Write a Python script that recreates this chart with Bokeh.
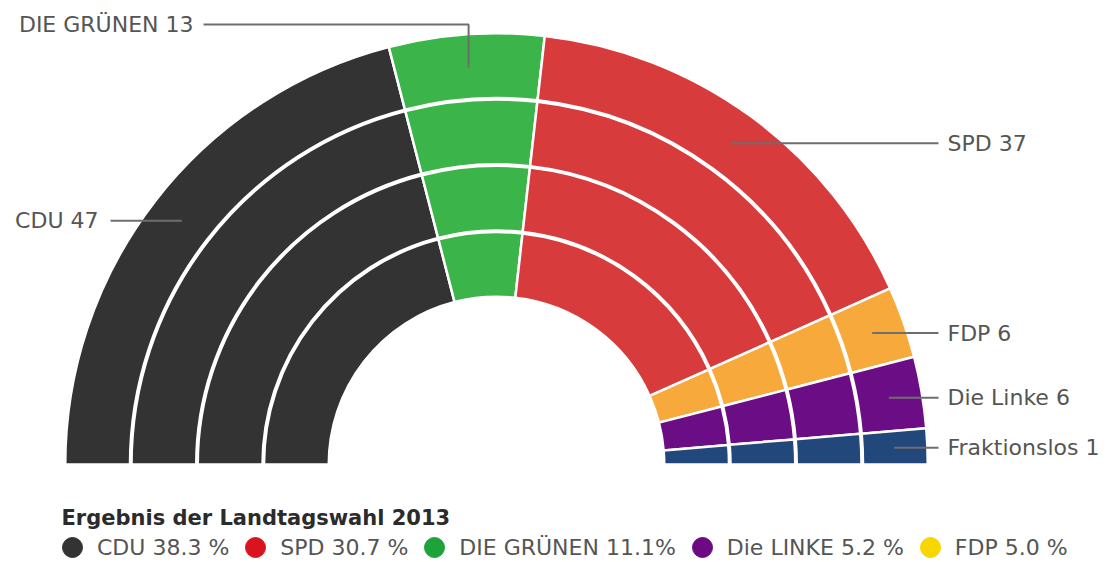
import math
from bokeh.plotting import figure
from bokeh.models import Range1d, Legend, LegendItem, Label, ColumnDataSource
from bokeh.core.properties import value
from bokeh.embed import file_html
from bokeh.resources import INLINE

# ---------------- data ----------------
parties = ["CDU", "DIE GRÜNEN", "SPD", "FDP", "Die Linke", "Fraktionslos"]
seats = [47, 13, 37, 6, 6, 1]
label_side = ["left", "top", "right", "right", "right", "right"]

legend_labels = ["CDU 38.3 %", "SPD 30.7 %", "DIE GRÜNEN 11.1%", "Die LINKE 5.2 %", "FDP 5.0 %"]
legend_title = "Ergebnis der Landtagswahl 2013"

# ---------------- style ----------------
seat_colors = ["#333333", "#3bb54a", "#d83b3c", "#f7aa3b", "#6b0e86", "#22477b"]
legend_colors = ["#333333", "#d8151c", "#1ea339", "#6b0a82", "#f8d600"]
FONT = "DejaVu Sans"
TEXT_COLOR = "#555555"
LINE_COLOR = "#6e6e6e"

W, H = 1105, 560
TOP = 562  # data y = TOP - screen y
CX, CY = 496, TOP - 464
R_OUT, R_IN = 431.25, 167.75
N_RINGS = 4
RING_GAP = 1.5
MIN_WEIGHT = 3  # smallest visual weight of a party slice

p = figure(width=W, height=H, output_backend="svg", toolbar_location=None,
           x_range=Range1d(0, W), y_range=Range1d(TOP - H, TOP),
           x_axis_type=None, y_axis_type=None, min_border=0)
p.grid.visible = False
p.outline_line_color = None
p.background_fill_color = "white"

# angles
weights = [max(s, MIN_WEIGHT) for s in seats]
tot = sum(weights)
hi_angles, lo_angles = [], []
a = math.pi
for w in weights:
    span = w / tot * math.pi
    hi_angles.append(a)
    lo_angles.append(a - span)
    a -= span

ring_w = (R_OUT - R_IN - (N_RINGS - 1) * RING_GAP) / N_RINGS
xs, ys, ir, orr, sa, ea, cols = [], [], [], [], [], [], []
for i in range(len(parties)):
    for k in range(N_RINGS):
        outer = R_OUT - k * (ring_w + RING_GAP)
        inner = outer - ring_w
        xs.append(CX); ys.append(CY)
        ir.append(inner); orr.append(outer)
        sa.append(lo_angles[i]); ea.append(hi_angles[i])
        cols.append(seat_colors[i])
src = ColumnDataSource(dict(x=xs, y=ys, ir=ir, orr=orr, sa=sa, ea=ea, c=cols))
p.annular_wedge(x="x", y="y", inner_radius="ir", outer_radius="orr",
                start_angle="sa", end_angle="ea", fill_color="c",
                line_color="white", line_width=2.5, source=src)

# labels and leader lines
LEADER_R = 398
RIGHT_LINE_END = 938
RIGHT_TEXT_X = 947
LEFT_LINE_END = 110
LEFT_TEXT_X = 98
TOP_Y = TOP - 24
TOP_LINE_END = 203
TOP_TEXT_X = 193

lx, ly = [], []
tx, ty, tt, ta = [], [], [], []
for i, name in enumerate(parties):
    mid = (lo_angles[i] + hi_angles[i]) / 2
    sx = CX + LEADER_R * math.cos(mid)
    sy = CY + LEADER_R * math.sin(mid)
    txt = f"{name} {seats[i]}"
    if label_side[i] == "right":
        lx.append([sx, RIGHT_LINE_END]); ly.append([sy, sy])
        tx.append(RIGHT_TEXT_X); ty.append(sy); tt.append(txt); ta.append("left")
    elif label_side[i] == "left":
        lx.append([sx, LEFT_LINE_END]); ly.append([sy, sy])
        tx.append(LEFT_TEXT_X); ty.append(sy); tt.append(txt); ta.append("right")
    else:
        lx.append([sx, sx, TOP_LINE_END]); ly.append([sy, TOP_Y, TOP_Y])
        tx.append(TOP_TEXT_X); ty.append(TOP_Y); tt.append(txt); ta.append("right")

p.multi_line(xs=lx, ys=ly, line_color=LINE_COLOR, line_width=2)
p.text(x=tx, y=ty, text=tt, text_align=ta, text_baseline="middle",
       text_font=value(FONT), text_font_size="22px", text_color=TEXT_COLOR)

# legend title
p.add_layout(Label(x=61, y=TOP - 517, text=legend_title, text_font=FONT,
                   text_font_size="21px", text_font_style="bold",
                   text_color="#2b2b2b", text_baseline="alphabetic"))

# legend
items = []
for lab, col in zip(legend_labels, legend_colors):
    r = p.scatter(x=[-1000], y=[-1000], marker="circle", fill_color=col, line_color=col)
    items.append(LegendItem(label=lab, renderers=[r]))
legend = Legend(items=items, orientation="horizontal", location=(47, -12),
                glyph_width=50, glyph_height=50, label_standoff=-10, spacing=1,
                padding=0, margin=0, border_line_color=None,
                background_fill_alpha=0, label_text_font=FONT,
                label_text_font_size="22px", label_text_color=TEXT_COLOR)
p.add_layout(legend)

open("out.html", "w").write(file_html(p, INLINE))
